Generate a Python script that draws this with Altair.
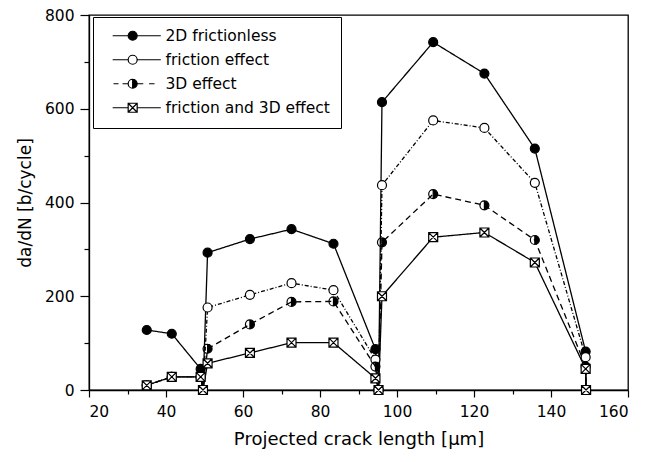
import altair as alt
import pandas as pd

series_names = ["2D frictionless", "friction effect", "3D effect", "friction and 3D effect"]

crack_length = [35.0, 41.5, 49.0, 49.6, 50.8, 61.8, 72.6, 83.5, 94.4, 95.2, 96.1, 109.4, 122.7, 135.8, 149.0, 149.1]
rate_2d_frictionless = [128, 120, 45, 0, 293, 322, 343, 312, 87, 0, 614, 742, 675, 515, 82, 0]
rate_friction = [10, 28, 28, 0, 176, 203, 228, 213, 65, 0, 437, 575, 559, 442, 70, 0]
rate_3d = [10, 28, 28, 0, 88, 140, 188, 189, 50, 0, 315, 418, 394, 320, 50, 0]
rate_friction_3d = [10, 28, 28, 0, 57, 79, 101, 101, 25, 0, 200, 326, 336, 272, 45, 0]

x_major_ticks = list(range(20, 161, 20))
x_minor_ticks = list(range(30, 151, 20))
y_major_ticks = list(range(0, 801, 200))
y_minor_ticks = list(range(100, 701, 200))

all_rates = [rate_2d_frictionless, rate_friction, rate_3d, rate_friction_3d]
rows = []
for name, vals in zip(series_names, all_rates):
    for i, (xv, yv) in enumerate(zip(crack_length, vals)):
        rows.append({"series": name, "x": xv, "y": yv, "seq": i})
df = pd.DataFrame(rows)

FONT = "DejaVu Sans"

circle = "M-1,0A1,1 0 1,1 1,0A1,1 0 1,1 -1,0Z"
half = "M-1,0A1,1 0 1,1 1,0A1,1 0 1,1 -1,0Z M0,1L0,-1A1,1 0 0,0 0,1Z"
xsquare = "M-1,-1L1,-1L1,1L-1,1Z M-1,-1L1,1 M1,-1L-1,1"
marker_paths = [circle, circle, half, xsquare]
marker_fills = ["black", "white", "black", "white"]
dashes = [[1, 0], [4, 2, 1, 2], [6, 4], [1, 0]]


def leg_path(kind, solid=True):
    c = 4.65
    if kind == "circle":
        mk = f"M{c-1},0A1,1 0 1,1 {c+1},0A1,1 0 1,1 {c-1},0Z"
    elif kind == "half":
        mk = (f"M{c-1},0A1,1 0 1,1 {c+1},0A1,1 0 1,1 {c-1},0Z "
              f"M{c},1L{c},-1A1,1 0 0,0 {c},1Z")
    else:
        mk = (f"M{c-1},-1L{c+1},-1L{c+1},1L{c-1},1Z "
              f"M{c-1},-1L{c+1},1 M{c+1},-1L{c-1},1")
    if solid:
        ln = f"M0.2,0L{c-1},0 M{c+1},0L10.9,0 "
    else:
        ln = f"M0.4,0L1.5,0 M2.4,0L{c-1},0 M{c+1},0L7.0,0 M8.3,0L9.5,0 "
    return ln + mk


legend_paths = [leg_path("circle"), leg_path("circle"), leg_path("half", solid=False), leg_path("square")]

x_scale = alt.Scale(domain=[20, 160], nice=False, zero=False)
y_scale = alt.Scale(domain=[0, 800], nice=False)

x_main = alt.X("x:Q", scale=x_scale, axis=alt.Axis(
    title="Projected crack length [µm]", values=x_major_ticks, tickSize=7,
    labelPadding=7, titlePadding=11, titleFontSize=18, orient="bottom"))
y_main = alt.Y("y:Q", scale=y_scale, axis=alt.Axis(
    title="da/dN [b/cycle]", values=y_major_ticks, tickSize=9,
    labelPadding=6, titlePadding=10, titleFontSize=17, orient="left"))

x_minor = alt.X("x:Q", scale=x_scale, axis=alt.Axis(
    title=None, values=x_minor_ticks, tickSize=4, labels=False, domain=False, orient="bottom"))
y_minor = alt.Y("y:Q", scale=y_scale, axis=alt.Axis(
    title=None, values=y_minor_ticks, tickSize=5, labels=False, domain=False, orient="left"))

lines = alt.Chart(df).mark_line(color="black", strokeWidth=1.3).encode(
    x=x_main,
    y=y_main,
    detail="series:N",
    order="seq:Q",
    strokeDash=alt.StrokeDash("series:N", scale=alt.Scale(domain=series_names, range=dashes), legend=None),
)

points = alt.Chart(df).mark_point(color="black", stroke="black", strokeWidth=1.2, size=81, opacity=1, fillOpacity=1).encode(
    x=alt.X("x:Q", scale=x_scale, axis=None),
    y=alt.Y("y:Q", scale=y_scale, axis=None),
    shape=alt.Shape("series:N", scale=alt.Scale(domain=series_names, range=marker_paths), legend=None),
    fill=alt.Fill("series:N", scale=alt.Scale(domain=series_names, range=marker_fills), legend=None),
)

legend_kw = dict(
    orient="none",
    legendX=4,
    legendY=2,
    padding=11,
    strokeColor="black",
    fillColor="white",
    labelFont=FONT,
    labelFontSize=15.5,
    labelColor="black",
    labelLimit=400,
    labelOffset=46,
    symbolSize=81,
    symbolStrokeColor="black",
    symbolStrokeWidth=1.2,
    symbolOpacity=1,
    rowPadding=7,
)

legend_layer = alt.Chart(df).transform_filter("datum.y < -1000").mark_point(
    color="black", stroke="black", strokeWidth=1.2, size=81, fillOpacity=1
).encode(
    x=x_minor,
    y=y_minor,
    shape=alt.Shape("series:N", scale=alt.Scale(domain=series_names, range=legend_paths),
                    title=None, legend=alt.Legend(**legend_kw)),
    fill=alt.Fill("series:N", scale=alt.Scale(domain=series_names, range=marker_fills),
                  title=None, legend=alt.Legend(**legend_kw)),
    stroke=alt.Stroke("series:N", scale=alt.Scale(domain=series_names, range=["black"] * 4),
                      title=None, legend=alt.Legend(**legend_kw)),
)

chart = alt.layer(lines, points, legend_layer).resolve_scale(
    shape="independent", fill="independent", strokeDash="independent", stroke="independent"
).resolve_axis(
    x="independent", y="independent"
).properties(
    width=539,
    height=375,
    autosize=alt.AutoSizeParams(type="none"),
    padding={"left": 81, "top": 7, "right": 24, "bottom": 60},
).configure_view(
    stroke="black", strokeWidth=1.3
).configure_axis(
    labelFont=FONT, labelFontSize=15.5, labelColor="black",
    titleFont=FONT, titleFontWeight="normal", titleColor="black",
    domainColor="black", domainWidth=1.3, tickColor="black", tickWidth=1.2, grid=False,
)

chart.save("out.html", embed_options={"renderer": "svg", "actions": False})
